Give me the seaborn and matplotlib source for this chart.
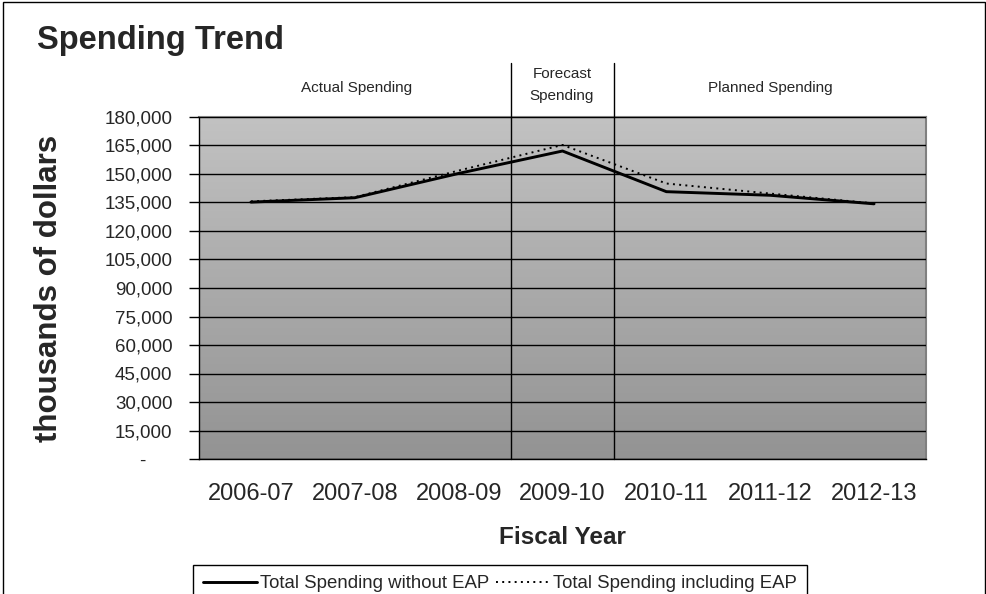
import numpy as np
import pandas as pd
import matplotlib
matplotlib.use('Agg')
import matplotlib.pyplot as plt
from matplotlib.colors import LinearSegmentedColormap
from matplotlib.patches import Rectangle
import seaborn as sns

# Chart values
years = ['2006-07', '2007-08', '2008-09', '2009-10', '2010-11', '2011-12', '2012-13']
without_eap = [135200, 137500, 150300, 162100, 140700, 138800, 134300]
with_eap = [135600, 137800, 151800, 165300, 145000, 139700, 134500]
y_ticks = list(range(0, 180001, 15000))
y_tick_labels = ['-     '] + [f"{v:,}" for v in y_ticks[1:]]
periods = ['Actual Spending', 'Forecast\nSpending', 'Planned Spending']

df = pd.DataFrame({'year': years,
                   'Total Spending without EAP': without_eap,
                   'Total Spending including EAP': with_eap})

sns.set_style('white')
plt.rcParams['font.family'] = ['Liberation Sans', 'DejaVu Sans']

fig = plt.figure(figsize=(9.87, 5.94), dpi=100)
ax = fig.add_axes([199 / 987, 1 - 459 / 594, 727 / 987, 342 / 594])

# grey gradient plot area
cmap = LinearSegmentedColormap.from_list('bg', ['#939393', '#c2c2c2'])
grad = np.linspace(0, 1, 256).reshape(-1, 1)
ax.imshow(grad, extent=[-0.5, 6.5, 0, 180000], origin='lower', aspect='auto',
          cmap=cmap, zorder=0)

sns.lineplot(data=df, x='year', y='Total Spending without EAP', ax=ax,
             color='black', linewidth=2.1, label='Total Spending without EAP', zorder=4)
sns.lineplot(data=df, x='year', y='Total Spending including EAP', ax=ax,
             color='black', linewidth=1.4, dashes=(1, 2.2),
             label='Total Spending including EAP', zorder=3)

ax.set_xlim(-0.5, 6.5)
ax.set_ylim(0, 180000)
ax.set_yticks(y_ticks)
ax.set_yticklabels(y_tick_labels, fontsize=13.5)
ax.set_xticks(range(len(years)))
ax.set_xticklabels(years, fontsize=17)
ax.set_xticks(np.arange(-0.5, 7, 1), minor=True)
ax.tick_params(axis='x', which='major', length=0, pad=17)
ax.tick_params(axis='x', which='minor', length=8, width=1, color='black', direction='out')
ax.tick_params(axis='y', length=7, width=1, color='black', direction='out', left=True, pad=12)
ax.yaxis.grid(True, color='black', linewidth=1)
ax.xaxis.grid(False)
ax.set_axisbelow(False)
for line in ax.get_ygridlines():
    line.set_zorder(1)

ax.set_xlabel('Fiscal Year', fontsize=17.5, fontweight='bold', labelpad=15.5)
ax.set_ylabel('thousands of dollars', fontsize=22.5, fontweight='bold', labelpad=29)

for side in ['left', 'bottom']:
    ax.spines[side].set_color('black')
    ax.spines[side].set_linewidth(1)
for side in ['top', 'right']:
    ax.spines[side].set_color('#808080')
    ax.spines[side].set_linewidth(1.5)

# period dividers reaching above the plot area
for xv in [2.5, 3.5]:
    ax.axvline(xv, ymin=0, ymax=(459 - 63) / 342, color='black', linewidth=1,
               clip_on=False, zorder=5)

fig.text(357 / 987, 1 - 88 / 594, periods[0], fontsize=11, ha='center', va='center')
fig.text(562 / 987, 1 - 85 / 594, periods[1], fontsize=11, ha='center', va='center',
         linespacing=1.65)
fig.text(770 / 987, 1 - 88 / 594, periods[2], fontsize=11, ha='center', va='center')

fig.text(37 / 987, 1 - 41 / 594, 'Spending Trend', fontsize=23.5, fontweight='bold',
         ha='left', va='center')

handles, labels = ax.get_legend_handles_labels()
ax.get_legend().remove()
fig.legend(handles, labels, loc='upper center', bbox_to_anchor=(500 / 987, 1 - 565 / 594),
           ncol=2, fontsize=13.4, frameon=True, fancybox=False, edgecolor='black',
           framealpha=1, handlelength=2.9, handletextpad=0.15, columnspacing=0.35,
           borderpad=0.55, borderaxespad=0)

# outer chart border
fig.patches.append(Rectangle((3 / 987, -0.1), 982 / 987, 1.1 - 2 / 594,
                             transform=fig.transFigure, fill=False,
                             edgecolor='black', linewidth=1))

fig.savefig('out.png', dpi=100)
